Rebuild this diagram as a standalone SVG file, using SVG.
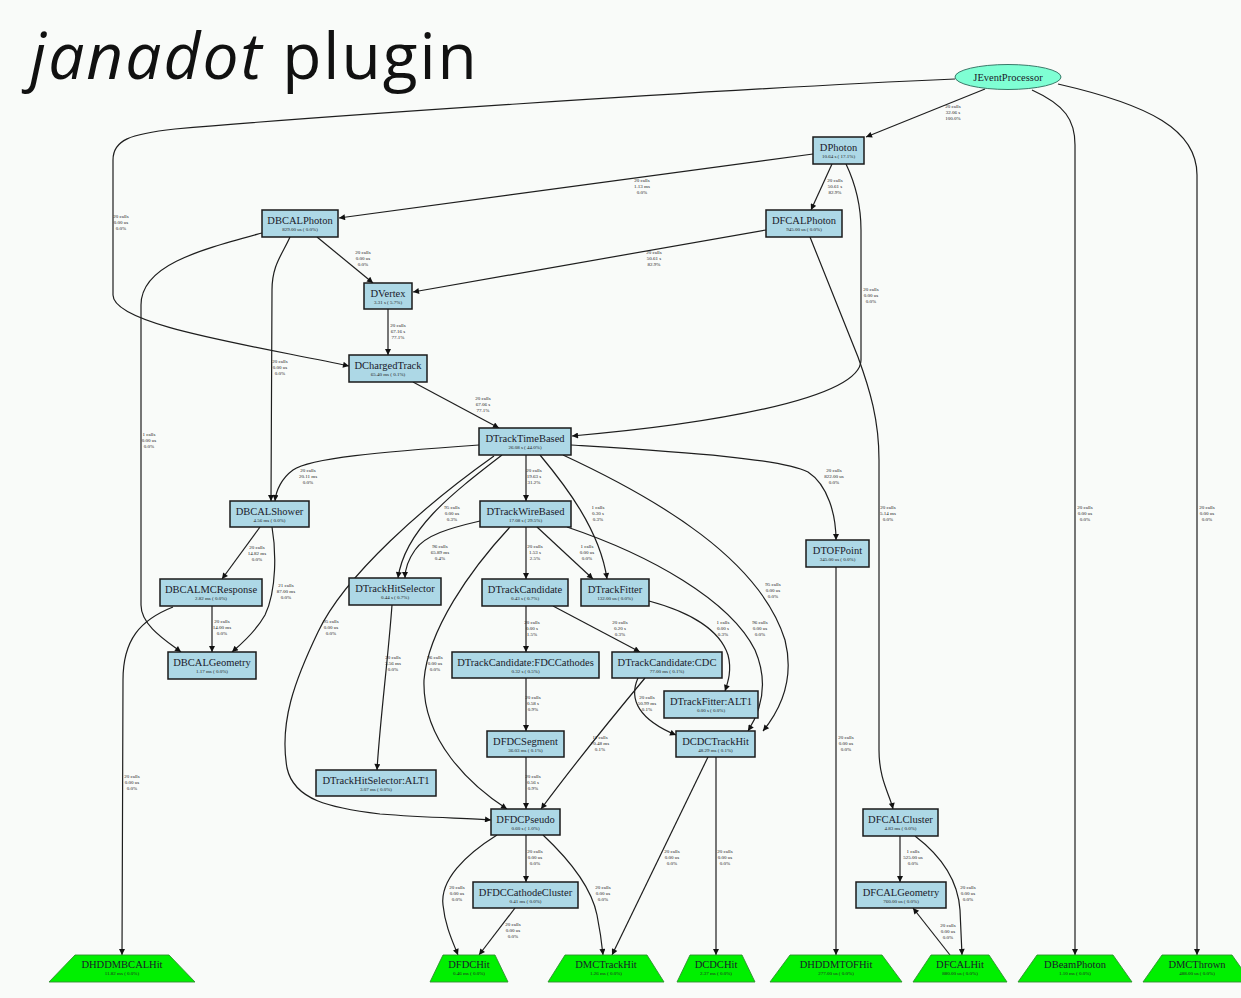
<svg xmlns="http://www.w3.org/2000/svg" width="1241" height="998" viewBox="0 0 1241 998">
<style>
  .bg { fill: #f9fbf9; }
  .title { font-family: "Open Sans", "Liberation Sans", sans-serif; font-size: 64px; letter-spacing: 2px; fill: #111; }
  .box { fill: #add8e6; stroke: #1a1a1a; stroke-width: 1.5; }
  .leaf { fill: #00f000; stroke: #2f8f2f; stroke-width: 0.9; }
  .root { fill: #7fffd4; stroke: #2a6a5a; stroke-width: 0.9; }
  .nm { font-family: "Liberation Serif", "Times New Roman", serif; font-size: 10.5px; text-anchor: middle; fill: #1a1a2a; }
  .sub { font-family: "Liberation Serif", "Times New Roman", serif; font-size: 5px; text-anchor: middle; fill: #222; }
  .edge { fill: none; stroke: #1e1e1e; stroke-width: 1.2; marker-end: url(#ah); }
  .el { font-family: "Liberation Serif", "Times New Roman", serif; font-size: 5px; text-anchor: middle; fill: #222; }
</style>
<defs>
  <marker id="ah" viewBox="0 0 10 10" refX="10" refY="5" markerWidth="8" markerHeight="6" markerUnits="userSpaceOnUse" orient="auto">
    <path d="M0,0 L10,5 L0,10 z" fill="#111"/>
  </marker>
</defs>
<rect class="bg" x="0" y="0" width="1241" height="998"/>
<text class="title" x="30" y="79"><tspan font-style="italic">janadot</tspan> plugin</text>

<!-- call edges -->
<g id="connectors">
  <path class="edge" d="M985,89 L866,137"/>
  <path class="edge" d="M955,79 C700,90 300,118 175,129 C130,134 113,140 113,160 L113,295 C113,325 250,345 349,366"/>
  <path class="edge" d="M1032,90 C1065,105 1075,120 1075,145 L1075,955"/>
  <path class="edge" d="M1058,84 C1150,105 1197,130 1197,175 L1197,955"/>
  <path class="edge" d="M813,154 L339,218"/>
  <path class="edge" d="M832,164 L811,210"/>
  <path class="edge" d="M846,164 C856,185 861,205 861,230 L861,360 C861,400 700,425 572,436"/>
  <path class="edge" d="M317,237 L373,283"/>
  <path class="edge" d="M766,230 L413,292"/>
  <path class="edge" d="M290,237 C282,255 272,265 272,290 L271,501"/>
  <path class="edge" d="M262,233 C200,250 141,265 141,305 L141,605 C141,625 165,640 181,652"/>
  <path class="edge" d="M810,237 L858,357 C870,390 879,420 879,460 L879,750 C879,780 890,795 893,809"/>
  <path class="edge" d="M388,309 L388,355"/>
  <path class="edge" d="M413,382 L499,428"/>
  <path class="edge" d="M479,445 C380,452 310,458 293,470 C282,478 276,490 275,501"/>
  <path class="edge" d="M526,455 L526,501"/>
  <path class="edge" d="M571,445 C680,452 780,458 808,472 C828,485 836,515 836,540"/>
  <path class="edge" d="M540,455 C565,485 600,530 607,579"/>
  <path class="edge" d="M563,455 C660,500 760,560 785,640 C795,680 780,710 763,731"/>
  <path class="edge" d="M567,527 C650,555 730,600 755,650 C770,685 760,712 748,731"/>
  <path class="edge" d="M649,601 C690,612 720,630 728,655 C732,670 728,682 725,691"/>
  <path class="edge" d="M502,455 C450,495 405,530 398,578"/>
  <path class="edge" d="M494,456 C425,505 345,575 318,632 C295,680 279,722 287,768 C294,800 330,808 380,814 C430,818 470,818 491,820"/>
  <path class="edge" d="M480,521 C450,528 425,535 415,550 C408,560 405,570 405,578"/>
  <path class="edge" d="M526,527 L526,579"/>
  <path class="edge" d="M537,527 L593,579"/>
  <path class="edge" d="M510,527 C470,570 428,630 424,680 C422,740 470,785 507,809"/>
  <path class="edge" d="M526,606 L526,652"/>
  <path class="edge" d="M553,606 L640,652"/>
  <path class="edge" d="M526,678 L526,731"/>
  <path class="edge" d="M638,678 C628,700 640,720 676,735"/>
  <path class="edge" d="M645,678 C610,720 570,770 541,809"/>
  <path class="edge" d="M526,757 L526,809"/>
  <path class="edge" d="M392,605 C388,660 380,720 377,770"/>
  <path class="edge" d="M526,835 L526,882"/>
  <path class="edge" d="M497,835 C465,855 440,880 443,905 C445,925 452,940 458,955"/>
  <path class="edge" d="M543,835 C575,865 592,890 597,915 C600,930 602,945 603,955"/>
  <path class="edge" d="M515,908 L479,955"/>
  <path class="edge" d="M708,757 L612,955"/>
  <path class="edge" d="M716,757 L716,955"/>
  <path class="edge" d="M836,567 L836,955"/>
  <path class="edge" d="M900,836 L900,882"/>
  <path class="edge" d="M915,836 C940,855 958,880 960,910 L962,955"/>
  <path class="edge" d="M950,955 L913,908"/>
  <path class="edge" d="M260,527 L222,579"/>
  <path class="edge" d="M272,527 C276,550 277,590 265,615 C255,633 240,645 232,652"/>
  <path class="edge" d="M212,606 L212,652"/>
  <path class="edge" d="M173,607 C140,620 123,640 123,680 L122,955"/>

  <text class="el" y="108"><tspan x="953">20 calls</tspan><tspan x="953" dy="6">32.06 s</tspan><tspan x="953" dy="6">100.0%</tspan></text>
  <text class="el" y="218"><tspan x="121">20 calls</tspan><tspan x="121" dy="6">0.00 us</tspan><tspan x="121" dy="6">0.0%</tspan></text>
  <text class="el" y="509"><tspan x="1085">20 calls</tspan><tspan x="1085" dy="6">0.00 us</tspan><tspan x="1085" dy="6">0.0%</tspan></text>
  <text class="el" y="509"><tspan x="1207">20 calls</tspan><tspan x="1207" dy="6">0.00 us</tspan><tspan x="1207" dy="6">0.0%</tspan></text>
  <text class="el" y="509"><tspan x="888">20 calls</tspan><tspan x="888" dy="6">5.14 ms</tspan><tspan x="888" dy="6">0.0%</tspan></text>
  <text class="el" y="182"><tspan x="642">20 calls</tspan><tspan x="642" dy="6">1.13 ms</tspan><tspan x="642" dy="6">0.0%</tspan></text>
  <text class="el" y="182"><tspan x="835">20 calls</tspan><tspan x="835" dy="6">50.61 s</tspan><tspan x="835" dy="6">82.9%</tspan></text>
  <text class="el" y="291"><tspan x="871">20 calls</tspan><tspan x="871" dy="6">0.00 us</tspan><tspan x="871" dy="6">0.0%</tspan></text>
  <text class="el" y="254"><tspan x="654">20 calls</tspan><tspan x="654" dy="6">50.61 s</tspan><tspan x="654" dy="6">82.9%</tspan></text>
  <text class="el" y="254"><tspan x="363">20 calls</tspan><tspan x="363" dy="6">0.00 us</tspan><tspan x="363" dy="6">0.0%</tspan></text>
  <text class="el" y="327"><tspan x="398">20 calls</tspan><tspan x="398" dy="6">67.16 s</tspan><tspan x="398" dy="6">77.1%</tspan></text>
  <text class="el" y="363"><tspan x="280">20 calls</tspan><tspan x="280" dy="6">0.00 us</tspan><tspan x="280" dy="6">0.0%</tspan></text>
  <text class="el" y="400"><tspan x="483">20 calls</tspan><tspan x="483" dy="6">67.06 s</tspan><tspan x="483" dy="6">77.1%</tspan></text>
  <text class="el" y="436"><tspan x="149">1 calls</tspan><tspan x="149" dy="6">0.00 us</tspan><tspan x="149" dy="6">0.0%</tspan></text>
  <text class="el" y="472"><tspan x="308">20 calls</tspan><tspan x="308" dy="6">20.11 ms</tspan><tspan x="308" dy="6">0.0%</tspan></text>
  <text class="el" y="472"><tspan x="534">20 calls</tspan><tspan x="534" dy="6">19.63 s</tspan><tspan x="534" dy="6">31.2%</tspan></text>
  <text class="el" y="472"><tspan x="834">20 calls</tspan><tspan x="834" dy="6">822.00 us</tspan><tspan x="834" dy="6">0.0%</tspan></text>
  <text class="el" y="509"><tspan x="452">95 calls</tspan><tspan x="452" dy="6">0.00 us</tspan><tspan x="452" dy="6">0.3%</tspan></text>
  <text class="el" y="509"><tspan x="598">1 calls</tspan><tspan x="598" dy="6">0.30 s</tspan><tspan x="598" dy="6">0.3%</tspan></text>
  <text class="el" y="548"><tspan x="440">96 calls</tspan><tspan x="440" dy="6">65.89 ms</tspan><tspan x="440" dy="6">0.4%</tspan></text>
  <text class="el" y="548"><tspan x="535">20 calls</tspan><tspan x="535" dy="6">1.53 s</tspan><tspan x="535" dy="6">2.5%</tspan></text>
  <text class="el" y="548"><tspan x="587">1 calls</tspan><tspan x="587" dy="6">0.00 us</tspan><tspan x="587" dy="6">0.0%</tspan></text>
  <text class="el" y="586"><tspan x="773">95 calls</tspan><tspan x="773" dy="6">0.00 us</tspan><tspan x="773" dy="6">0.0%</tspan></text>
  <text class="el" y="623"><tspan x="331">95 calls</tspan><tspan x="331" dy="6">0.00 us</tspan><tspan x="331" dy="6">0.0%</tspan></text>
  <text class="el" y="587"><tspan x="286">21 calls</tspan><tspan x="286" dy="6">87.00 ms</tspan><tspan x="286" dy="6">0.0%</tspan></text>
  <text class="el" y="549"><tspan x="257">20 calls</tspan><tspan x="257" dy="6">14.82 ms</tspan><tspan x="257" dy="6">0.0%</tspan></text>
  <text class="el" y="623"><tspan x="222">20 calls</tspan><tspan x="222" dy="6">14.00 ms</tspan><tspan x="222" dy="6">0.0%</tspan></text>
  <text class="el" y="624"><tspan x="532">20 calls</tspan><tspan x="532" dy="6">0.00 s</tspan><tspan x="532" dy="6">1.5%</tspan></text>
  <text class="el" y="624"><tspan x="620">20 calls</tspan><tspan x="620" dy="6">0.20 s</tspan><tspan x="620" dy="6">0.3%</tspan></text>
  <text class="el" y="624"><tspan x="723">1 calls</tspan><tspan x="723" dy="6">0.00 s</tspan><tspan x="723" dy="6">0.3%</tspan></text>
  <text class="el" y="624"><tspan x="760">96 calls</tspan><tspan x="760" dy="6">0.00 us</tspan><tspan x="760" dy="6">0.0%</tspan></text>
  <text class="el" y="659"><tspan x="393">20 calls</tspan><tspan x="393" dy="6">3.56 ms</tspan><tspan x="393" dy="6">0.0%</tspan></text>
  <text class="el" y="659"><tspan x="435">96 calls</tspan><tspan x="435" dy="6">0.00 us</tspan><tspan x="435" dy="6">0.0%</tspan></text>
  <text class="el" y="699"><tspan x="533">20 calls</tspan><tspan x="533" dy="6">0.58 s</tspan><tspan x="533" dy="6">0.9%</tspan></text>
  <text class="el" y="699"><tspan x="647">20 calls</tspan><tspan x="647" dy="6">50.99 ms</tspan><tspan x="647" dy="6">0.1%</tspan></text>
  <text class="el" y="739"><tspan x="600">11 calls</tspan><tspan x="600" dy="6">70.48 ms</tspan><tspan x="600" dy="6">0.1%</tspan></text>
  <text class="el" y="778"><tspan x="533">20 calls</tspan><tspan x="533" dy="6">0.56 s</tspan><tspan x="533" dy="6">0.9%</tspan></text>
  <text class="el" y="739"><tspan x="846">20 calls</tspan><tspan x="846" dy="6">0.00 us</tspan><tspan x="846" dy="6">0.0%</tspan></text>
  <text class="el" y="778"><tspan x="132">20 calls</tspan><tspan x="132" dy="6">0.00 us</tspan><tspan x="132" dy="6">0.0%</tspan></text>
  <text class="el" y="853"><tspan x="672">20 calls</tspan><tspan x="672" dy="6">0.00 us</tspan><tspan x="672" dy="6">0.0%</tspan></text>
  <text class="el" y="853"><tspan x="725">20 calls</tspan><tspan x="725" dy="6">0.00 us</tspan><tspan x="725" dy="6">0.0%</tspan></text>
  <text class="el" y="853"><tspan x="535">20 calls</tspan><tspan x="535" dy="6">0.00 us</tspan><tspan x="535" dy="6">0.0%</tspan></text>
  <text class="el" y="853"><tspan x="913">1 calls</tspan><tspan x="913" dy="6">525.00 us</tspan><tspan x="913" dy="6">0.0%</tspan></text>
  <text class="el" y="889"><tspan x="457">20 calls</tspan><tspan x="457" dy="6">0.00 us</tspan><tspan x="457" dy="6">0.0%</tspan></text>
  <text class="el" y="889"><tspan x="603">20 calls</tspan><tspan x="603" dy="6">0.00 us</tspan><tspan x="603" dy="6">0.0%</tspan></text>
  <text class="el" y="889"><tspan x="968">20 calls</tspan><tspan x="968" dy="6">0.00 us</tspan><tspan x="968" dy="6">0.0%</tspan></text>
  <text class="el" y="926"><tspan x="513">20 calls</tspan><tspan x="513" dy="6">0.00 us</tspan><tspan x="513" dy="6">0.0%</tspan></text>
  <text class="el" y="927"><tspan x="948">20 calls</tspan><tspan x="948" dy="6">0.00 us</tspan><tspan x="948" dy="6">0.0%</tspan></text>
</g>

<!-- factories -->
<g id="n-JEventProcessor"><ellipse class="root" cx="1008" cy="77" rx="53" ry="12.5"/><text class="nm" x="1008" y="80.5">JEventProcessor</text></g>
<g id="n-DPhoton"><rect class="box" x="813" y="137" width="51" height="27"/><text class="nm" x="838.5" y="150.5">DPhoton</text><text class="sub" x="838.5" y="158">10.64 s ( 17.1%)</text></g>
<g id="n-DBCALPhoton"><rect class="box" x="262" y="210" width="76" height="27"/><text class="nm" x="300" y="223.5">DBCALPhoton</text><text class="sub" x="300" y="231">829.00 us ( 0.0%)</text></g>
<g id="n-DFCALPhoton"><rect class="box" x="766" y="210" width="76" height="27"/><text class="nm" x="804" y="223.5">DFCALPhoton</text><text class="sub" x="804" y="231">945.00 us ( 0.0%)</text></g>
<g id="n-DVertex"><rect class="box" x="364" y="283" width="48" height="26"/><text class="nm" x="388" y="296.5">DVertex</text><text class="sub" x="388" y="304">3.31 s ( 5.7%)</text></g>
<g id="n-DChargedTrack"><rect class="box" x="349" y="355" width="78" height="27"/><text class="nm" x="388" y="368.5">DChargedTrack</text><text class="sub" x="388" y="376">65.40 ms ( 0.1%)</text></g>
<g id="n-DTrackTimeBased"><rect class="box" x="479" y="428" width="92" height="27"/><text class="nm" x="525" y="441.5">DTrackTimeBased</text><text class="sub" x="525" y="449">26.08 s ( 44.0%)</text></g>
<g id="n-DBCALShower"><rect class="box" x="230" y="501" width="79" height="26"/><text class="nm" x="269.5" y="514.5">DBCALShower</text><text class="sub" x="269.5" y="522">4.56 ms ( 0.0%)</text></g>
<g id="n-DTrackWireBased"><rect class="box" x="480" y="501" width="91" height="26"/><text class="nm" x="525.5" y="514.5">DTrackWireBased</text><text class="sub" x="525.5" y="522">17.08 s ( 29.5%)</text></g>
<g id="n-DTOFPoint"><rect class="box" x="806" y="540" width="63" height="27"/><text class="nm" x="837.5" y="553.5">DTOFPoint</text><text class="sub" x="837.5" y="561">345.00 us ( 0.0%)</text></g>
<g id="n-DBCALMCResponse"><rect class="box" x="160" y="579" width="102" height="27"/><text class="nm" x="211" y="592.5">DBCALMCResponse</text><text class="sub" x="211" y="600">2.82 ms ( 0.0%)</text></g>
<g id="n-DTrackHitSelector"><rect class="box" x="349" y="578" width="92" height="27"/><text class="nm" x="395" y="591.5">DTrackHitSelector</text><text class="sub" x="395" y="599">0.44 s ( 0.7%)</text></g>
<g id="n-DTrackCandidate"><rect class="box" x="482" y="579" width="86" height="27"/><text class="nm" x="525" y="592.5">DTrackCandidate</text><text class="sub" x="525" y="600">0.43 s ( 0.7%)</text></g>
<g id="n-DTrackFitter"><rect class="box" x="581" y="579" width="68" height="27"/><text class="nm" x="615" y="592.5">DTrackFitter</text><text class="sub" x="615" y="600">132.00 us ( 0.0%)</text></g>
<g id="n-DBCALGeometry"><rect class="box" x="168" y="652" width="88" height="27"/><text class="nm" x="212" y="665.5">DBCALGeometry</text><text class="sub" x="212" y="673">1.17 ms ( 0.0%)</text></g>
<g id="n-DTrackCandidate-FDCCathodes"><rect class="box" x="452" y="652" width="147" height="26"/><text class="nm" x="525.5" y="665.5">DTrackCandidate:FDCCathodes</text><text class="sub" x="525.5" y="673">0.32 s ( 0.5%)</text></g>
<g id="n-DTrackCandidate-CDC"><rect class="box" x="612" y="652" width="110" height="26"/><text class="nm" x="667" y="665.5">DTrackCandidate:CDC</text><text class="sub" x="667" y="673">77.00 ms ( 0.1%)</text></g>
<g id="n-DTrackFitter-ALT1"><rect class="box" x="664" y="691" width="94" height="27"/><text class="nm" x="711" y="704.5">DTrackFitter:ALT1</text><text class="sub" x="711" y="712">0.00 s ( 0.0%)</text></g>
<g id="n-DFDCSegment"><rect class="box" x="487" y="731" width="77" height="26"/><text class="nm" x="525.5" y="744.5">DFDCSegment</text><text class="sub" x="525.5" y="752">36.03 ms ( 0.1%)</text></g>
<g id="n-DCDCTrackHit"><rect class="box" x="676" y="731" width="79" height="26"/><text class="nm" x="715.5" y="744.5">DCDCTrackHit</text><text class="sub" x="715.5" y="752">48.29 ms ( 0.1%)</text></g>
<g id="n-DTrackHitSelector-ALT1"><rect class="box" x="316" y="770" width="120" height="26"/><text class="nm" x="376" y="783.5">DTrackHitSelector:ALT1</text><text class="sub" x="376" y="791">3.07 ms ( 0.0%)</text></g>
<g id="n-DFDCPseudo"><rect class="box" x="491" y="809" width="69" height="26"/><text class="nm" x="525.5" y="822.5">DFDCPseudo</text><text class="sub" x="525.5" y="830">0.60 s ( 1.0%)</text></g>
<g id="n-DFCALCluster"><rect class="box" x="863" y="809" width="75" height="27"/><text class="nm" x="900.5" y="822.5">DFCALCluster</text><text class="sub" x="900.5" y="830">4.83 ms ( 0.0%)</text></g>
<g id="n-DFDCCathodeCluster"><rect class="box" x="473" y="882" width="105" height="26"/><text class="nm" x="525.5" y="895.5">DFDCCathodeCluster</text><text class="sub" x="525.5" y="903">0.41 ms ( 0.0%)</text></g>
<g id="n-DFCALGeometry"><rect class="box" x="856" y="882" width="90" height="26"/><text class="nm" x="901" y="895.5">DFCALGeometry</text><text class="sub" x="901" y="903">760.00 us ( 0.0%)</text></g>

<!-- source objects -->
<g id="n-DHDDMBCALHit"><polygon class="leaf" points="49,982 75,955 169,955 195,982"/><text class="nm" x="122" y="967.5">DHDDMBCALHit</text><text class="sub" x="122" y="975">11.82 ms ( 0.0%)</text></g>
<g id="n-DFDCHit"><polygon class="leaf" points="430,982 443,955 495,955 508,982"/><text class="nm" x="469" y="967.5">DFDCHit</text><text class="sub" x="469" y="975">0.46 ms ( 0.0%)</text></g>
<g id="n-DMCTrackHit"><polygon class="leaf" points="548,982 565,955 647,955 664,982"/><text class="nm" x="606" y="967.5">DMCTrackHit</text><text class="sub" x="606" y="975">1.26 ms ( 0.0%)</text></g>
<g id="n-DCDCHit"><polygon class="leaf" points="677,982 690,955 742,955 755,982"/><text class="nm" x="716" y="967.5">DCDCHit</text><text class="sub" x="716" y="975">2.37 ms ( 0.0%)</text></g>
<g id="n-DHDDMTOFHit"><polygon class="leaf" points="770,982 790,955 882,955 902,982"/><text class="nm" x="836" y="967.5">DHDDMTOFHit</text><text class="sub" x="836" y="975">277.00 us ( 0.0%)</text></g>
<g id="n-DFCALHit"><polygon class="leaf" points="913,982 931,955 989,955 1007,982"/><text class="nm" x="960" y="967.5">DFCALHit</text><text class="sub" x="960" y="975">880.00 us ( 0.0%)</text></g>
<g id="n-DBeamPhoton"><polygon class="leaf" points="1018,982 1037,955 1113,955 1132,982"/><text class="nm" x="1075" y="967.5">DBeamPhoton</text><text class="sub" x="1075" y="975">1.10 ms ( 0.0%)</text></g>
<g id="n-DMCThrown"><polygon class="leaf" points="1143,982 1162,955 1232,955 1251,982"/><text class="nm" x="1197" y="967.5">DMCThrown</text><text class="sub" x="1197" y="975">488.00 us ( 0.0%)</text></g>
</svg>
